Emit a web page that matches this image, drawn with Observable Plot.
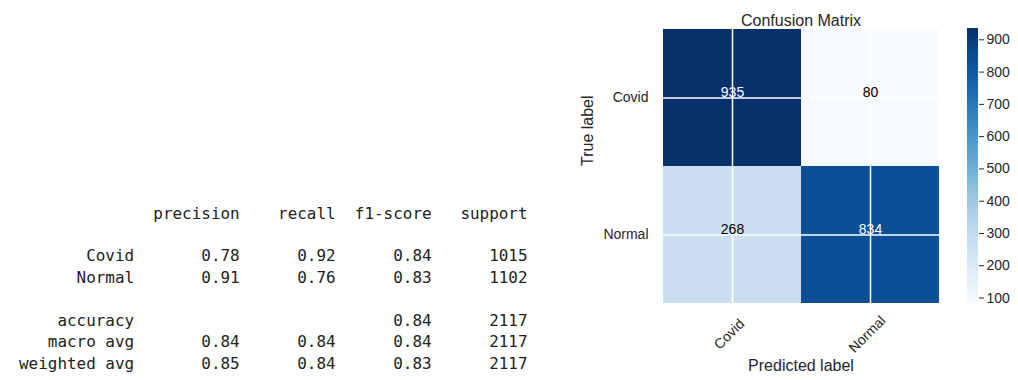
<!DOCTYPE html>
<html><head><meta charset="utf-8">
<script src="https://cdn.jsdelivr.net/npm/d3@7"></script>
<script src="https://cdn.jsdelivr.net/npm/@observablehq/plot@0.6"></script>
<style>
body{margin:0;background:#fff;width:1018px;height:380px;position:relative;overflow:hidden}
#report{position:absolute;left:19px;top:202.5px;margin:0;font-family:"DejaVu Sans Mono","Liberation Mono",monospace;font-size:15.95px;line-height:21.45px;color:#222}
#cm{position:absolute;left:0;top:0}
#cb{position:absolute;left:967px;top:0}
</style></head><body>
<pre id="report"></pre><div id="cm"></div><div id="cb"></div>
<script>
// classification report
const reportHeader = ["precision", "recall", "f1-score", "support"];
const classNames = ["Covid", "Normal"];
const precision = [0.78, 0.91];
const recall = [0.92, 0.76];
const f1 = [0.84, 0.83];
const support = [1015, 1102];
const accuracy = 0.84;
const totalSupport = 2117;
const macroAvg = [0.84, 0.84, 0.84];
const weightedAvg = [0.85, 0.84, 0.83];

// confusion matrix
const trueLabels = ["Covid", "Covid", "Normal", "Normal"];
const predLabels = ["Covid", "Normal", "Covid", "Normal"];
const counts = [935, 80, 268, 834];
const colorbarTicks = [100, 200, 300, 400, 500, 600, 700, 800, 900];

// build text report (sklearn layout)
const W = 12;
const pl = (s, n) => String(s).padStart(n);
const f2 = v => v.toFixed(2);
const lines = [];
lines.push(pl("", W) + " " + reportHeader.map(h => " " + pl(h, 9)).join(""));
lines.push("");
classNames.forEach((c, i) => {
  lines.push(pl(c, W) + " " + [precision[i], recall[i], f1[i]].map(v => " " + pl(f2(v), 9)).join("") + " " + pl(support[i], 9));
});
lines.push("");
lines.push(pl("accuracy", W) + " " + " " + pl("", 9) + " " + pl("", 9) + " " + pl(f2(accuracy), 9) + " " + pl(totalSupport, 9));
lines.push(pl("macro avg", W) + " " + macroAvg.map(v => " " + pl(f2(v), 9)).join("") + " " + pl(totalSupport, 9));
lines.push(pl("weighted avg", W) + " " + weightedAvg.map(v => " " + pl(f2(v), 9)).join("") + " " + pl(totalSupport, 9));
document.getElementById("report").textContent = lines.join("\n");

const cells = counts.map((v, i) => ({t: trueLabels[i], p: predLabels[i], v}));
const vmin = d3.min(counts), vmax = d3.max(counts);
const font = "'Liberation Sans', Arial, sans-serif";

const cm = Plot.plot({
  width: 1018, height: 380,
  marginLeft: 662, marginRight: 79, marginTop: 28, marginBottom: 77,
  style: {fontFamily: font, color: "#262626", background: "transparent"},
  x: {domain: classNames, padding: 0, axis: null},
  y: {domain: classNames, padding: 0},
  color: {type: "linear", scheme: "blues", domain: [vmin, vmax]},
  marks: [
    Plot.cell(cells, {x: "p", y: "t", fill: "v"}),
    Plot.ruleX(classNames, {x: d => d, stroke: "white", strokeWidth: 1.5}),
    Plot.ruleY(classNames, {y: d => d, stroke: "white", strokeWidth: 1.5}),
    Plot.text(cells, {filter: d => d.v > vmax / 2, x: "p", y: "t", text: d => String(d.v), fill: "white", fontSize: 14, dy: -5}),
    Plot.text(cells, {filter: d => d.v <= vmax / 2, x: "p", y: "t", text: d => String(d.v), fill: "black", fontSize: 14, dy: -5}),
    Plot.axisY({tickSize: 0, tickPadding: 14, fontSize: 14, label: null}),
    Plot.text(classNames, {x: d => d, frameAnchor: "bottom", dy: 34, rotate: -45, fontSize: 14, fill: "#262626"}),
    Plot.text(["Predicted label"], {frameAnchor: "bottom", dy: 67, fontSize: 16, fill: "#262626"}),
    Plot.text(["True label"], {frameAnchor: "left", dx: -75, rotate: -90, fontSize: 16, fill: "#262626"}),
    Plot.text(["Confusion Matrix"], {frameAnchor: "top", dy: -14, fontSize: 16, fill: "#262626"})
  ]
});
document.getElementById("cm").appendChild(cm);

const ramp = d3.range(vmin, vmax, 1);
const cb = Plot.plot({
  width: 51, height: 380,
  marginLeft: 0, marginRight: 40, marginTop: 28, marginBottom: 76,
  style: {fontFamily: font, color: "#262626", background: "transparent"},
  x: {domain: [0, 1], axis: null},
  y: {domain: [vmin, vmax]},
  color: {type: "linear", scheme: "blues", domain: [vmin, vmax]},
  marks: [
    Plot.rect(ramp, {x1: 0, x2: 1, y1: d => d, y2: d => d + 1.5, fill: d => d, shapeRendering: "crispEdges"}),
    Plot.axisY(colorbarTicks, {anchor: "right", tickSize: 5, tickPadding: 3, fontSize: 14, label: null})
  ]
});
document.getElementById("cb").appendChild(cb);
</script>
</body></html>
